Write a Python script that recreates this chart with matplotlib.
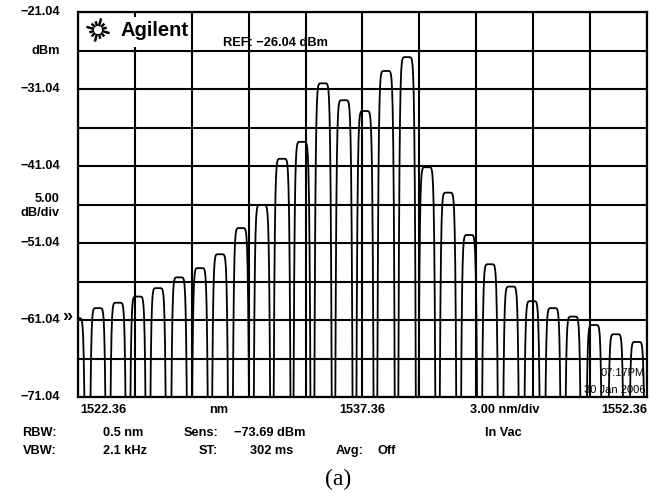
import numpy as np
import matplotlib
matplotlib.use("Agg")
import matplotlib.pyplot as plt
from matplotlib.patches import Rectangle
from matplotlib.transforms import blended_transform_factory

plt.rcParams['font.family'] = ['Liberation Sans', 'DejaVu Sans']

# OSA screen settings
wl_start, wl_stop = 1522.36, 1552.36      # nm
ref_top, ref_bottom = -21.04, -71.04      # dBm
y_labels = [-21.04, -31.04, -41.04, -51.04, -61.04, -71.04]

# comb lines (nm, dBm)
wl_peaks = [1522.31, 1523.41, 1524.47, 1525.52, 1526.58, 1527.69, 1528.79,
            1529.85, 1530.95, 1532.06, 1533.12, 1534.17, 1535.28, 1536.38,
            1537.49, 1538.60, 1539.71, 1540.76, 1541.87, 1542.98, 1544.08,
            1545.19, 1546.30, 1547.40, 1548.46, 1549.57, 1550.72, 1551.83]
lvl_peaks = [-60.8, -59.5, -58.8, -58.0, -56.9, -55.5, -54.3,
             -52.5, -49.1, -46.1, -40.1, -37.9, -30.3, -32.5,
             -33.9, -28.7, -26.9, -41.2, -44.5, -50.0, -53.8,
             -56.7, -58.6, -59.5, -60.6, -61.7, -62.9, -63.9]

noise_floor = -90.0
filt_w = 0.345   # nm, flat-top line shape

W, H = 660, 500
def fx(x):
    return x / W
def fy(y):
    return 1 - y / H

fig = plt.figure(figsize=(6.6, 5.0), dpi=100)
ax = fig.add_axes([fx(78), fy(397), (647 - 78) / W, (397 - 12) / H])

# trace: sum of flat-top lines on a 1001 point sweep
wl = np.linspace(wl_start, wl_stop, 1001)
p_lin = np.full_like(wl, 10 ** (noise_floor / 10))
for c, p in zip(wl_peaks, lvl_peaks):
    p_lin += 10 ** (p / 10) * np.exp(-((wl - c) / filt_w) ** 8)
trace = 10 * np.log10(p_lin)
ax.plot(wl, trace, color='black', lw=1.3, zorder=2)

ax.set_xlim(wl_start, wl_stop)
ax.set_ylim(ref_bottom, ref_top)
ax.set_xticks(np.linspace(wl_start, wl_stop, 11))
ax.set_yticks(np.linspace(ref_bottom, ref_top, 11))
ax.grid(True, color='black', lw=1.5)
ax.set_axisbelow(True)
ax.tick_params(length=0, labelbottom=False, labelleft=False)
for s in ax.spines.values():
    s.set_linewidth(1.6)

fs = 9.2
tr = blended_transform_factory(fig.transFigure, ax.transData)
for v in y_labels:
    ax.text(fx(60), v, f"{v:.2f}".replace('-', '\u2212'), transform=tr,
            ha='right', va='center', fontsize=fs, fontweight='bold')
ax.text(fx(60), -26.04, "dBm", transform=tr, ha='right', va='center',
        fontsize=fs, fontweight='bold')
fig.text(fx(60), fy(199), "5.00", ha='right', va='center', fontsize=fs, fontweight='bold')
fig.text(fx(60), fy(213), "dB/div", ha='right', va='center', fontsize=fs, fontweight='bold')
fig.text(fx(67), fy(316), "\u00bb", ha='center', va='center', fontsize=13, fontweight='bold')

# Agilent logo block
ax.add_patch(Rectangle((fx(80), fy(47)), (190 - 80) / W, (47 - 17) / H,
                       transform=fig.transFigure, facecolor='white',
                       edgecolor='none', zorder=4, clip_on=False))
cx, cy = 98, 30
for k in range(12):
    a = np.pi * k / 6 + np.pi / 12
    r1 = 4
    r2 = 12 if k % 3 == 0 else 9
    ax.plot([fx(cx + r1 * np.cos(a)), fx(cx + r2 * np.cos(a))],
            [fy(cy + r1 * np.sin(a)), fy(cy + r2 * np.sin(a))],
            transform=fig.transFigure, color='black', lw=1.8, zorder=5,
            clip_on=False, solid_capstyle='butt')
fig.text(fx(121), fy(31), "Agilent", ha='left', va='center', fontsize=14.5,
         fontweight='bold', zorder=6)
fig.text(fx(223), fy(43), "REF: \u221226.04 dBm", ha='left', va='center',
         fontsize=fs, fontweight='bold')

# time stamp
fig.text(fx(645), fy(373), "07:17PM", ha='right', va='center', fontsize=8)
fig.text(fx(645), fy(390), "30 Jan 2006", ha='right', va='center', fontsize=8)

# bottom annotation rows
row1 = [(80, "1522.36", 'left'), (219, "nm", 'center'), (362, "1537.36", 'center'),
        (505, "3.00 nm/div", 'center'), (647, "1552.36", 'right')]
for x, s, ha in row1:
    fig.text(fx(x), fy(410), s, ha=ha, va='center', fontsize=fs, fontweight='bold')

row2 = [(57, "RBW:", 'right'), (103, "0.5 nm", 'left'), (218, "Sens:", 'right'),
        (234, "\u221273.69 dBm", 'left'), (485, "In Vac", 'left')]
for x, s, ha in row2:
    fig.text(fx(x), fy(433), s, ha=ha, va='center', fontsize=fs, fontweight='bold')

row3 = [(57, "VBW:", 'right'), (103, "2.1 kHz", 'left'), (218, "ST:", 'right'),
        (250, "302 ms", 'left'), (364, "Avg:", 'right'), (378, "Off", 'left')]
for x, s, ha in row3:
    fig.text(fx(x), fy(451), s, ha=ha, va='center', fontsize=fs, fontweight='bold')

fig.text(fx(338), fy(479), "(a)", ha='center', va='center', fontsize=17,
         family=['Liberation Serif', 'DejaVu Serif'])

fig.savefig("out.png", dpi=100, facecolor='white')
